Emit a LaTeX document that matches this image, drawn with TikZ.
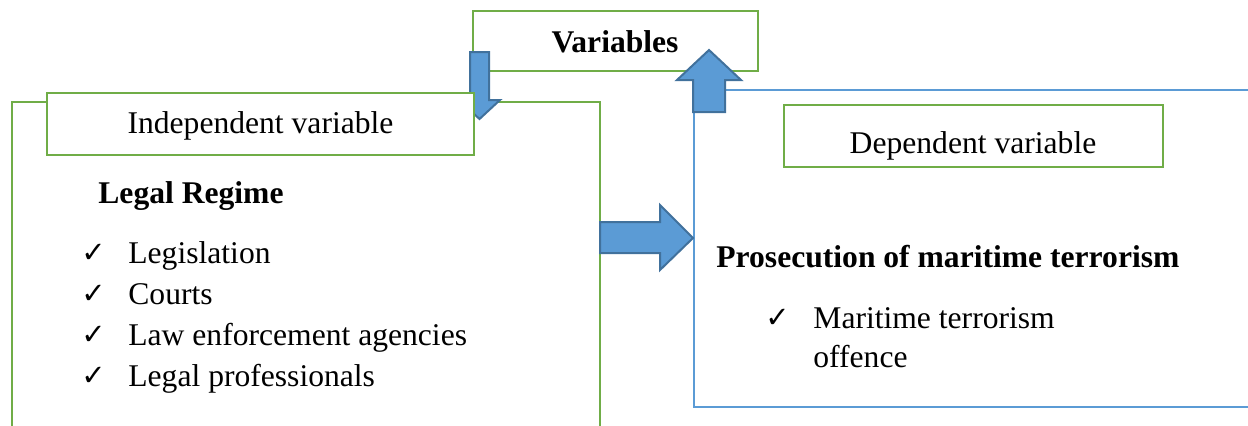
\documentclass[tikz,border=0pt]{standalone}
\usepackage{fontspec}
\setmainfont{Liberation Serif}
\newfontfamily\checkfont{DejaVu Sans}
\definecolor{boxgreen}{HTML}{70AD47}
\definecolor{boxblue}{HTML}{5B9BD5}
\definecolor{arrowfill}{HTML}{5B9BD5}
\definecolor{arrowline}{HTML}{41719C}
\tikzset{
  greenbox/.style={draw=boxgreen, line width=1.4pt, fill=white, inner sep=0pt},
  bluebox/.style={draw=boxblue, line width=1.1pt},
  blockarrow/.style={fill=arrowfill, draw=arrowline, line width=1pt, line join=miter},
  txt/.style={inner sep=0pt, anchor=base west, font=\fontsize{15.8}{19}\selectfont},
  ctxt/.style={inner sep=0pt, anchor=base, font=\fontsize{15.8}{19}\selectfont},
  chk/.style={inner sep=0pt, anchor=base west, font=\checkfont\bfseries\fontsize{14.5}{17}\selectfont},
}
\begin{document}
\begin{tikzpicture}[x=0.5pt, y=-0.5pt]
\useasboundingbox (0,0) rectangle (1248,425);
\clip (0,0) rectangle (1248,425);
% big boxes
\draw[greenbox, fill=none] (12,470) -- (12,102) -- (600,102) -- (600,470);
\draw[bluebox] (694,90) rectangle (1270,407);
% Variables box
\node[greenbox, minimum width=142.5pt, minimum height=30pt] (variables) at (615.5,41) {};
\node[ctxt] (vartext) at (615,52) {\textbf{Variables}};
% down arrow
\draw[blockarrow] (470,52) -- (489,52) -- (489,100) -- (500,100) -- (479.5,119) -- (459,100) -- (470,100) -- cycle;
% up arrow
\draw[blockarrow] (693,112) -- (725,112) -- (725,80) -- (741,80) -- (709,50) -- (677,80) -- (693,80) -- cycle;
% right arrow
\draw[blockarrow] (600,222) -- (660,222) -- (660,205) -- (693,238) -- (660,270) -- (660,253) -- (600,253) -- cycle;
% Independent variable box
\node[greenbox, minimum width=213.5pt, minimum height=31pt] (indep) at (260.5,124) {};
\node[ctxt] (indeptext) at (260.5,133) {Independent variable};
% Dependent variable box
\node[greenbox, minimum width=189.5pt, minimum height=31pt] (dep) at (973.5,136) {};
\node[ctxt] (deptext) at (973,153) {Dependent variable};
% left content
\node[txt] (legal) at (98,203) {\textbf{Legal Regime}};
\node[chk] (c1) at (81,262) {✓};
\node[txt] (i1) at (128,263) {Legislation};
\node[chk] (c2) at (81,303) {✓};
\node[txt] (i2) at (128,304) {Courts};
\node[chk] (c3) at (81,344) {✓};
\node[txt] (i3) at (128,345) {Law enforcement agencies};
\node[chk] (c4) at (81,385) {✓};
\node[txt] (i4) at (128,386) {Legal professionals};
% right content
\node[txt] (pros) at (716,267) {\textbf{Prosecution of maritime terrorism}};
\node[chk] (c5) at (765,327) {✓};
\node[txt] (j1) at (813,328) {Maritime terrorism};
\node[txt] (j2) at (813,367) {offence};
\end{tikzpicture}
\end{document}
